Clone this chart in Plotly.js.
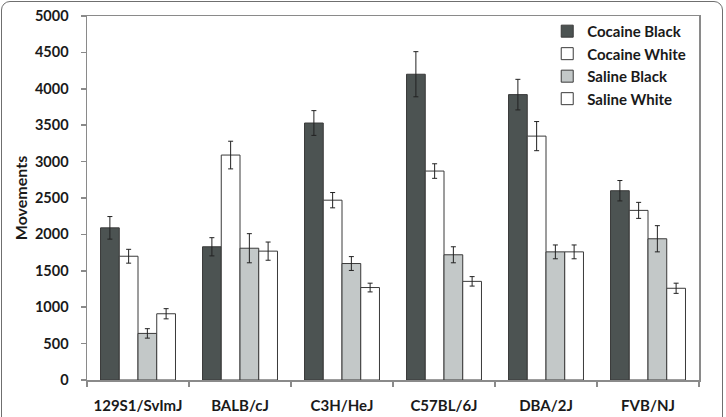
<!DOCTYPE html>
<html>
<head>
<meta charset="utf-8">
<script src="https://cdn.plot.ly/plotly-3.0.1.min.js"></script>
<style>
  html, body { margin: 0; padding: 0; background: #fff; overflow: hidden; }
  #frame {
    position: absolute; left: 1px; top: 1px; width: 722px; height: 440px;
    border: 1.5px solid #6f6f6f; border-radius: 9px; box-sizing: border-box;
  }
  #chart { position: absolute; left: 0; top: 0; width: 726px; height: 417px; }
</style>
</head>
<body>
<div id="frame"></div>
<div id="chart"></div>
<script>
// Mouse strains on the x axis
const strains = ['129S1/SvImJ', 'BALB/cJ', 'C3H/HeJ', 'C57BL/6J', 'DBA/2J', 'FVB/NJ'];

// Mean movements per group
const cocaineBlack = [2090, 1830, 3530, 4200, 3920, 2600];
const cocaineWhite = [1700, 3090, 2470, 2870, 3350, 2330];
const salineBlack  = [640, 1810, 1600, 1720, 1760, 1940];
const salineWhite  = [910, 1770, 1270, 1355, 1760, 1260];

// Standard errors
const cocaineBlackErr = [155, 125, 170, 310, 210, 140];
const cocaineWhiteErr = [95, 190, 105, 100, 200, 110];
const salineBlackErr  = [65, 200, 95, 110, 95, 180];
const salineWhiteErr  = [70, 125, 60, 65, 95, 70];

const seriesNames = ['Cocaine Black', 'Cocaine White', 'Saline Black', 'Saline White'];
const yTicks = [0, 500, 1000, 1500, 2000, 2500, 3000, 3500, 4000, 4500, 5000];

const fills = ['#4c5352', '#ffffff', '#c3c8c8', '#ffffff'];
const values = [cocaineBlack, cocaineWhite, salineBlack, salineWhite];
const errors = [cocaineBlackErr, cocaineWhiteErr, salineBlackErr, salineWhiteErr];

const traces = seriesNames.map((name, i) => ({
  type: 'bar',
  name: name,
  x: strains,
  y: values[i],
  marker: { color: fills[i], line: { color: '#3a3a3a', width: 1 } },
  error_y: { type: 'data', array: errors[i], visible: true, color: '#222', thickness: 1, width: 2.5 },
  hoverinfo: 'x+y+name'
}));

const fontFam = 'Lato, "Open Sans", sans-serif';
const ink = '#1a1a1a';

const layout = {
  width: 726, height: 417,
  margin: { l: 87, r: 27, t: 16, b: 37 },
  paper_bgcolor: 'rgba(0,0,0,0)',
  plot_bgcolor: '#fff',
  barmode: 'group',
  bargap: 0.265,
  bargroupgap: 0,
  font: { family: fontFam, color: ink, size: 14, weight: 700 },
  showlegend: true,
  legend: {
    x: 0.752, y: 1.003, xanchor: 'left', yanchor: 'top',
    bgcolor: 'rgba(0,0,0,0)',
    font: { family: fontFam, size: 15, weight: 700, color: ink },
    tracegroupgap: 0, itemwidth: 30
  },
  xaxis: {
    type: 'category',
    showline: true, linecolor: '#8a8a8a', linewidth: 1.5, mirror: true,
    ticks: 'outside', ticklen: 5, tickcolor: '#8a8a8a', tickwidth: 1.5,
    tickson: 'boundaries',
    showgrid: false, zeroline: false,
    ticklabelstandoff: 11,
    tickfont: { family: fontFam, size: 15, weight: 700, color: ink }
  },
  yaxis: {
    range: [0, 5000],
    tickvals: yTicks,
    ticktext: yTicks.map(String),
    showline: true, linecolor: '#8a8a8a', linewidth: 1.5, mirror: true,
    ticks: 'outside', ticklen: 5, tickcolor: '#8a8a8a', tickwidth: 1.5,
    showgrid: false, zeroline: false,
    ticklabelstandoff: 9,
    tickfont: { family: fontFam, size: 14.5, weight: 700, color: ink },
    title: { text: 'Movements', standoff: 3, font: { family: fontFam, size: 16, weight: 700, color: ink } }
  }
};

Plotly.newPlot('chart', traces, layout, { displayModeBar: false, staticPlot: true });
</script>
</body>
</html>
